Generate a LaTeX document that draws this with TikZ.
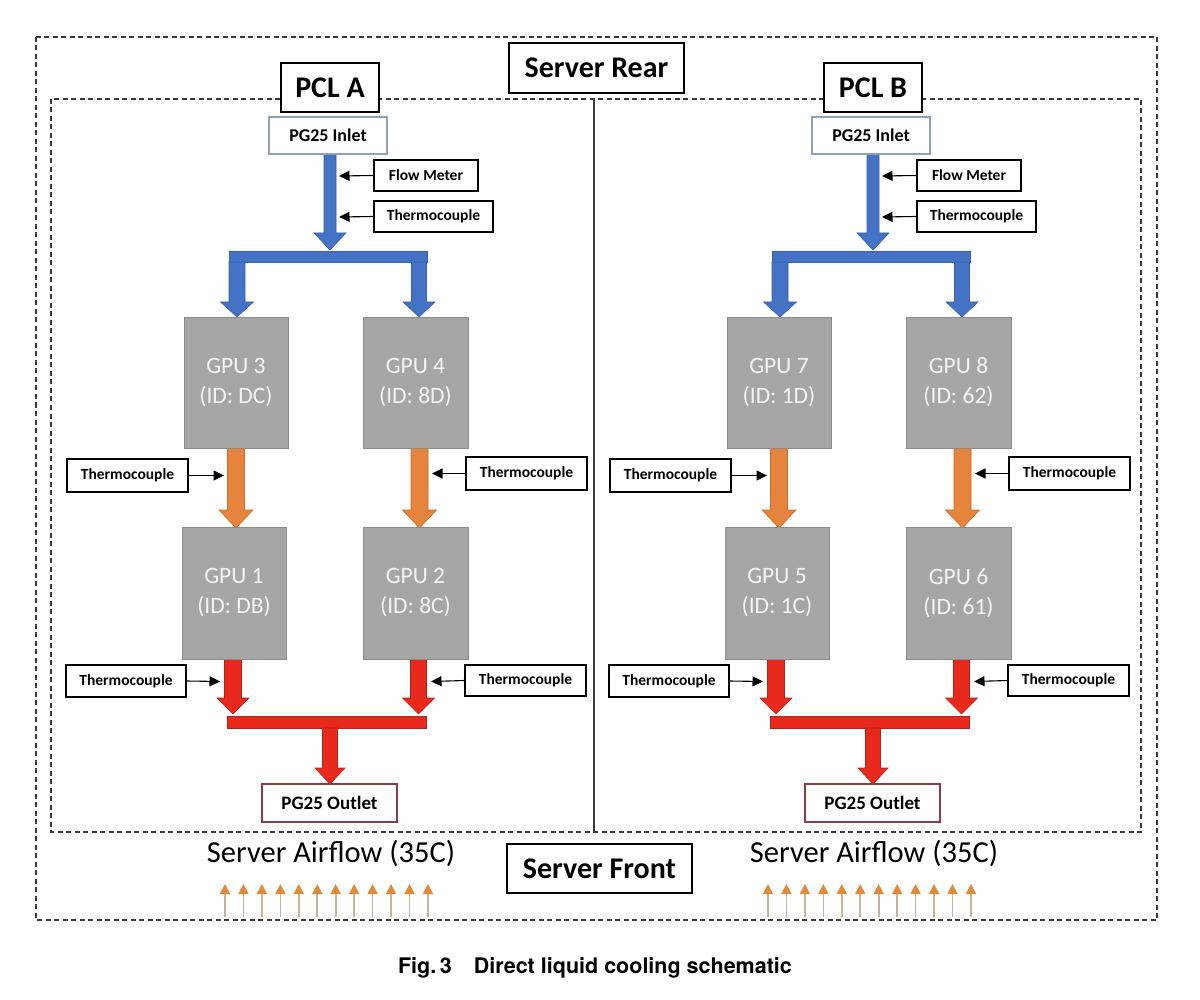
\documentclass[tikz,border=0pt]{standalone}
\usepackage{fontspec}
\setmainfont{Carlito}
\newfontfamily\capfont{TeX Gyre Heros}
\usetikzlibrary{arrows.meta}
\definecolor{pblue}{HTML}{4472C4}
\definecolor{pblueline}{HTML}{3A62AE}
\definecolor{porange}{HTML}{E6833C}
\definecolor{porangeline}{HTML}{C86E2C}
\definecolor{pred}{HTML}{E8291C}
\definecolor{predline}{HTML}{B52318}
\definecolor{gpufill}{HTML}{A6A6A6}
\definecolor{gpuline}{HTML}{8C8C8C}
\definecolor{gputext}{HTML}{F4F4F4}
\definecolor{inletline}{HTML}{8EA2B5}
\definecolor{outletline}{HTML}{8E3B46}
\definecolor{dashgrey}{HTML}{3A3A3A}
\definecolor{airshaft}{HTML}{C9B497}
\definecolor{airhead}{HTML}{E08A3C}

% fat downward pipe arrow: #1 style, #2 x, #3 ytop, #4 yhead, #5 ytip, #6 shaft half, #7 head half
\newcommand\fatdown[7]{%
  \filldraw[#1] ({#2-#6},#3) -- ({#2+#6},#3) -- ({#2+#6},#4) -- ({#2+#7},#4)
    -- (#2,#5) -- ({#2-#7},#4) -- ({#2-#6},#4) -- cycle;}

% one cooling loop: #1 suffix, #2 xshift, #3 PCL label, #4..#7 GPU labels
\newcommand\pclloop[7]{%
\begin{scope}[xshift=#2pt]
  % pipes
  \fatdown{bluepipe}{330}{154}{233}{250}{6}{16}
  \filldraw[bluepipe] (229,251) rectangle (427,262);
  \fatdown{bluepipe}{237}{262}{302}{317}{8}{16.5}
  \fatdown{bluepipe}{419}{262}{302}{317}{7.5}{16}
  \fatdown{orangepipe}{236}{448}{510}{528}{8.5}{17}
  \fatdown{orangepipe}{419.5}{448}{510}{528}{8.5}{17}
  \fatdown{redpipe}{233}{659}{698}{714}{8.5}{16}
  \fatdown{redpipe}{418.5}{659}{698}{714}{8}{16}
  \filldraw[redpipe] (227,716) rectangle (426,728);
  \fatdown{redpipe}{330}{728}{768}{784}{7.5}{15}
  % nodes
  \node[bigbox, minimum width=98pt, minimum height=49pt] (pcl#1) at (330,87.5) {#3};
  \node[lbl, draw=inletline, font=\fontsize{18}{20}\selectfont\bfseries,
        minimum width=118pt, minimum height=37pt] (in#1) at (328,135.5) {PG25 Inlet};
  \node[lbl, minimum width=104pt, minimum height=31pt] (fm#1) at (426,175.5) {Flow Meter};
  \node[lbl, minimum width=119pt, minimum height=31pt] (tca#1) at (433.5,216.5) {Thermocouple};
  \node[gpubox, minimum width=104pt, minimum height=131pt] (gtl#1) at (236,382.5) {#4};
  \node[gpubox, minimum width=105pt, minimum height=131pt] (gtr#1) at (415.5,382.5) {#5};
  \node[gpubox, minimum width=104pt, minimum height=132pt] (gbl#1) at (234,593) {#6};
  \node[gpubox, minimum width=105pt, minimum height=132pt] (gbr#1) at (415.5,593) {#7};
  \node[lbl, minimum width=121pt, minimum height=33pt] (tcb#1) at (127.5,475.5) {Thermocouple};
  \node[lbl, minimum width=121pt, minimum height=33pt] (tcc#1) at (526.5,473.5) {Thermocouple};
  \node[lbl, minimum width=120pt, minimum height=32pt] (tcd#1) at (126,681) {Thermocouple};
  \node[lbl, minimum width=121pt, minimum height=31pt] (tce#1) at (525.5,680.5) {Thermocouple};
  \node[lbl, draw=outletline, font=\fontsize{19}{21}\selectfont\bfseries,
        minimum width=135pt, minimum height=38pt] (out#1) at (329.5,803) {PG25 Outlet};
  % sensor taps
  \coordinate (pfm#1) at (339,176);
  \coordinate (pta#1) at (339,217);
  \coordinate (ptb#1) at (224,475.5);
  \coordinate (ptc#1) at (432,473.5);
  \coordinate (ptd#1) at (220,681.5);
  \coordinate (pte#1) at (431,681.5);
  \draw[tcarrow] (fm#1.west) -- (pfm#1);
  \draw[tcarrow] (tca#1.west) -- (pta#1);
  \draw[tcarrow] (tcb#1.east) -- (ptb#1);
  \draw[tcarrow] (tcc#1.west) -- (ptc#1);
  \draw[tcarrow] (tcd#1.east) -- (ptd#1);
  \draw[tcarrow] (tce#1.west) -- (pte#1);
  % airflow
  \node[font=\fontsize{30.5}{34}\selectfont] (air#1) at (331,853) {Server Airflow (35C)};
  \foreach \i in {0,...,11}{
    \coordinate (ab#1\i) at ({225+\i*18.45},917);
    \coordinate (at#1\i) at ({225+\i*18.45},884);
    \draw[airarrow] (ab#1\i) -- (at#1\i);
  }
\end{scope}}

\begin{document}
\begin{tikzpicture}[x=1pt,y=-1pt,
  lbl/.style={draw=black, line width=1.1pt, fill=white, inner sep=0pt,
              font=\fontsize{15.5}{18}\selectfont\bfseries},
  bigbox/.style={lbl, line width=1.3pt, font=\fontsize{30}{34}\selectfont\bfseries},
  gpubox/.style={fill=gpufill, draw=gpuline, line width=0.8pt, inner sep=0pt,
                 align=center, text=gputext, font=\fontsize{23.5}{30}\selectfont},
  dashline/.style={draw=dashgrey, line width=1.4pt, dash pattern=on 5pt off 3.5pt},
  tcarrow/.style={draw=black, line width=1.1pt, -{Triangle[length=10.5pt,width=10pt]}},
  airarrow/.style={draw=airshaft, line width=1.6pt, -{Triangle[length=10pt,width=10pt,color=airhead]}},
  bluepipe/.style={fill=pblue, draw=pblueline, line width=0.6pt},
  orangepipe/.style={fill=porange, draw=porangeline, line width=0.6pt},
  redpipe/.style={fill=pred, draw=predline, line width=0.6pt}]
\useasboundingbox (0,0) rectangle (1200,1000);
\fill[white] (0,0) rectangle (1200,1000);
% enclosures
\draw[dashline] (36,37) rectangle (1157,920);
\draw[dashline] (51,99) rectangle (1141,832);
\coordinate (divtop) at (594,99);
\coordinate (divbot) at (594,832);
\draw[draw=dashgrey, line width=1.2pt] (divtop) -- (divbot);
\node[bigbox, minimum width=175pt, minimum height=50pt] (rear) at (596.5,68) {Server Rear};
\node[bigbox, minimum width=185pt, minimum height=49pt] (front) at (599.5,868.5) {Server Front};

\pclloop{A}{0}{PCL A}{GPU 3\\(ID: DC)}{GPU 4\\(ID: 8D)}{GPU 1\\(ID: DB)}{GPU 2\\(ID: 8C)}
\pclloop{B}{543}{PCL B}{GPU 7\\(ID: 1D)}{GPU 8\\(ID: 62)}{GPU 5\\(ID: 1C)}{GPU 6\\(ID: 61)}

\node[font=\capfont\fontsize{21.5}{24}\selectfont\bfseries] (caption) at (595,968)
  {Fig.\,3\hspace{22pt}Direct liquid cooling schematic};
\end{tikzpicture}
\end{document}
